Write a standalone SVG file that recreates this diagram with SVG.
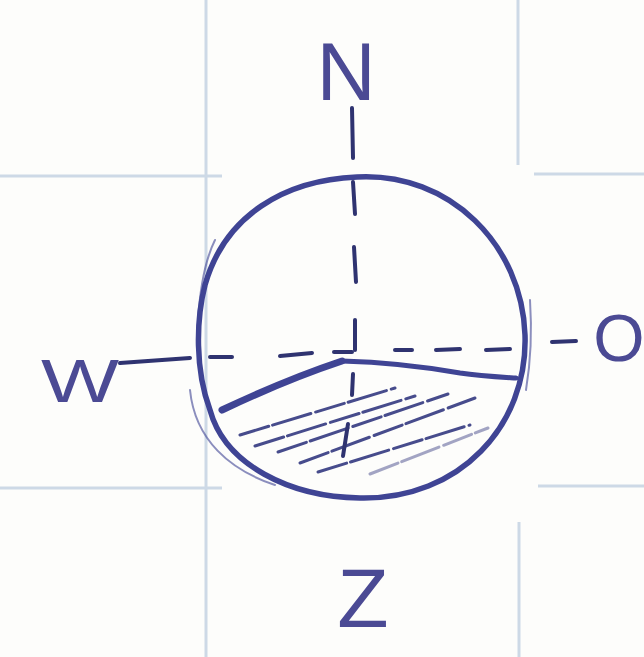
<svg xmlns="http://www.w3.org/2000/svg" width="644" height="657" viewBox="0 0 644 657">
<style>
.grid{stroke:#cdd9e6;stroke-width:3;fill:none}
.ink{stroke:#3f4494;fill:none;stroke-linecap:round;stroke-linejoin:round}
.dash{stroke:#2f3370;stroke-width:4;fill:none;stroke-linecap:round}
.hatch{stroke:#474c8c;stroke-width:3;fill:none;stroke-linecap:round;stroke-dasharray:30 4 40 5}
.lbl{font-family:"Liberation Sans",Arial,sans-serif;fill:#4b4a94;text-anchor:middle}
</style>
<rect width="644" height="657" fill="#fdfdfb"/>
<g id="grid">
<line class="grid" x1="206" y1="0" x2="206" y2="657"/>
<line class="grid" x1="518" y1="0" x2="518" y2="165"/>
<line class="grid" x1="519" y1="522" x2="519" y2="657"/>
<line class="grid" x1="0" y1="176" x2="222" y2="176"/>
<line class="grid" x1="534" y1="174" x2="644" y2="174"/>
<line class="grid" x1="0" y1="488" x2="222" y2="488"/>
<line class="grid" x1="538" y1="486" x2="644" y2="486"/>
</g>
<g id="sphere">
<path class="ink" stroke-width="5.5" d="M357,177 C450,172 522,245 525,335 C528,425 460,500 360,498 C290,497 225,465 210,410 C195,370 196,320 205,285 C225,215 285,180 357,177 Z"/>
<path class="ink" stroke-width="2" opacity="0.6" d="M190,390 C195,440 230,470 275,485"/>
<path class="ink" stroke-width="2" opacity="0.6" d="M215,240 C205,260 200,290 198,320"/>
<path class="ink" stroke-width="2" opacity="0.6" d="M530,300 C532,330 531,360 526,390"/>
</g>
<g id="shaded-cap">
<path class="ink" stroke-width="7" d="M222,410 C260,392 300,375 342,361"/>
<path class="ink" stroke-width="5" d="M342,361 C380,362 420,366 460,373 C480,376 500,377 516,378"/>
<line class="hatch" x1="240" y1="435" x2="395" y2="388"/>
<line class="hatch" x1="255" y1="446" x2="415" y2="396"/>
<line class="hatch" x1="278" y1="452" x2="448" y2="394"/>
<line class="hatch" x1="300" y1="463" x2="475" y2="398"/>
<line class="hatch" x1="318" y1="472" x2="470" y2="425"/>
<line class="hatch" x1="370" y1="474" x2="488" y2="428" opacity="0.5"/>
</g>
<g id="axes">
<line class="dash" x1="352" y1="108" x2="353" y2="158"/>
<line class="dash" x1="353" y1="182" x2="355" y2="214"/>
<line class="dash" x1="354" y1="247" x2="356" y2="282"/>
<line class="dash" x1="355" y1="320" x2="355" y2="350"/>
<line class="dash" x1="353" y1="374" x2="352" y2="395"/>
<line class="dash" x1="348" y1="424" x2="343" y2="456"/>
<line class="dash" x1="120" y1="363" x2="190" y2="358"/>
<line class="dash" x1="210" y1="357" x2="232" y2="357"/>
<line class="dash" x1="280" y1="356" x2="312" y2="353"/>
<line class="dash" x1="334" y1="352" x2="352" y2="352"/>
<line class="dash" x1="395" y1="350" x2="412" y2="350"/>
<line class="dash" x1="436" y1="350" x2="460" y2="349"/>
<line class="dash" x1="486" y1="350" x2="510" y2="349"/>
<line class="dash" x1="552" y1="342" x2="576" y2="341"/>
</g>
<g id="label-N"><text class="lbl" x="346" y="100" font-size="82">N</text></g>
<g id="label-W"><text class="lbl" x="80" y="402" font-size="62" textLength="78" lengthAdjust="spacingAndGlyphs">W</text></g>
<g id="label-O"><text class="lbl" x="619" y="361" font-size="66">O</text></g>
<g id="label-Z"><text class="lbl" x="363" y="627" font-size="84">Z</text></g>
</svg>
